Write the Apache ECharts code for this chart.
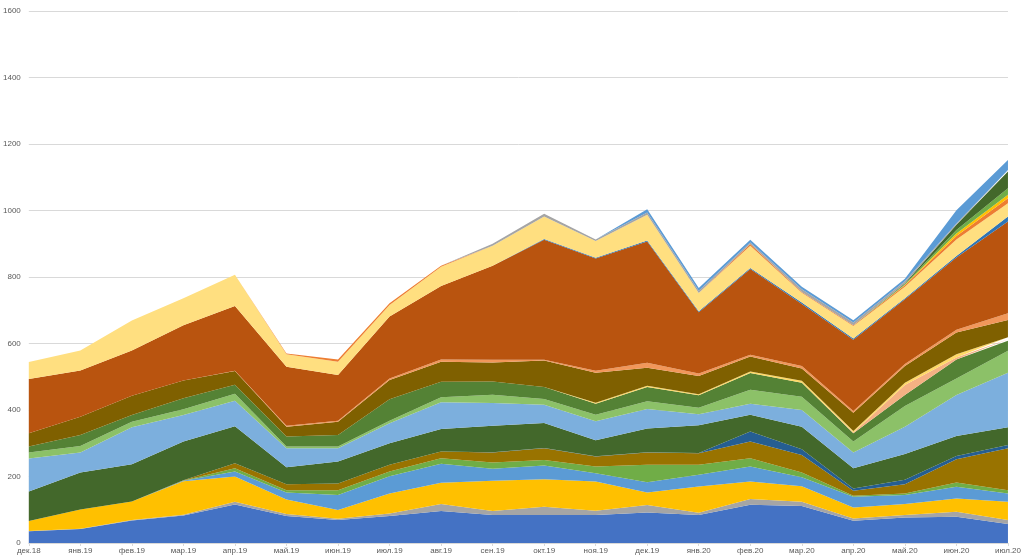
<!DOCTYPE html>
<html>
<head>
<meta charset="utf-8">
<script src="https://cdn.jsdelivr.net/npm/echarts@6/dist/echarts.min.js"></script>
<style>
  html, body {margin: 0; padding: 0; background: #fff;}
  #chart {width: 1024px; height: 560px;}
</style>
</head>
<body>
<div id="chart"></div>
<script>
// месяцы
const months = ['дек.18', 'янв.19', 'фев.19', 'мар.19', 'апр.19', 'май.19', 'июн.19', 'июл.19', 'авг.19', 'сен.19',
  'окт.19', 'ноя.19', 'дек.19', 'янв.20', 'фев.20', 'мар.20', 'апр.20', 'май.20', 'июн.20', 'июл.20']

// ряды снизу вверх
const s01 = [35, 42, 68, 83, 116, 81, 69, 81, 96, 84, 84, 84, 92, 84, 115, 111, 67, 77, 79, 57]
const s02 = [1, 1, 1, 2, 8, 6, 4, 8, 21, 12, 25, 13, 22, 7, 17, 13, 7, 7, 15, 12]
const s03 = [30, 58, 56, 101, 76, 44, 26, 60, 64, 91, 83, 88, 38, 79, 53, 47, 33, 33, 40, 55]
const s04 = [0, 0, 0, 1, 15, 21, 45, 52, 57, 36, 41, 25, 31, 35, 45, 27, 32, 27, 35, 25]
const s05 = [0, 0, 0, 1, 10, 7, 15, 14, 17, 19, 17, 20, 52, 30, 25, 14, 3, 5, 13, 10]
const s06 = [0, 0, 0, 1, 15, 18, 20, 20, 20, 30, 35, 30, 37, 35, 50, 53, 15, 28, 70, 126]
const s07 = [0, 0, 0, 0, 0, 0, 0, 0, 0, 1, 1, 1, 1, 1, 30, 17, 7, 13, 10, 10]
const s08 = [89, 111, 112, 116, 111, 51, 66, 65, 68, 80, 75, 48, 71, 83, 51, 68, 61, 78, 60, 53]
const s09 = [99, 60, 111, 80, 77, 57, 40, 60, 80, 68, 55, 57, 59, 33, 33, 50, 47, 82, 123, 164]
const s10 = [18, 20, 17, 17, 21, 5, 5, 8, 15, 25, 17, 20, 23, 20, 42, 40, 33, 62, 50, 66]
const s11 = [18, 33, 20, 33, 27, 30, 35, 64, 47, 40, 36, 33, 43, 37, 50, 42, 25, 33, 57, 30]
const s12 = [0, 0, 0, 0, 0, 0, 0, 0, 0, 0, 0, 0, 0, 0, 0, 0, 2, 30, 6, 5]
const s13 = [0, 0, 0, 0, 0, 0, 0, 0, 0, 0, 0, 3, 4, 3, 5, 6, 5, 7, 10, 6]
const s14 = [40, 55, 58, 54, 41, 30, 40, 58, 60, 57, 80, 90, 54, 55, 45, 37, 55, 50, 65, 52]
const s15 = [0, 0, 0, 0, 1, 3, 3, 5, 7, 8, 2, 6, 15, 8, 5, 7, 5, 6, 8, 20]
const s16 = [163, 139, 136, 166, 195, 177, 137, 186, 221, 283, 361, 338, 365, 184, 258, 187, 214, 195, 218, 276]
const s17 = [0, 0, 0, 0, 0, 0, 0, 0, 0, 0, 2, 2, 3, 3, 3, 4, 4, 3, 4, 15]
const s18 = [51, 60, 90, 81, 94, 38, 40, 35, 58, 60, 68, 50, 77, 55, 67, 30, 38, 35, 50, 40]
const s19 = [0, 0, 0, 0, 0, 2, 7, 5, 3, 0, 0, 0, 0, 0, 5, 2, 2, 4, 10, 15]
const s20 = [0, 0, 0, 0, 0, 0, 0, 0, 0, 0, 0, 0, 0, 0, 0, 0, 0, 2, 8, 10]
const s21 = [0, 0, 0, 0, 0, 0, 0, 0, 0, 0, 0, 0, 0, 0, 0, 0, 0, 2, 10, 20]
const s22 = [0, 0, 0, 0, 0, 0, 0, 0, 0, 0, 0, 0, 0, 0, 0, 0, 0, 2, 16, 50]
const s23 = [0, 0, 0, 0, 0, 0, 0, 0, 0, 6, 8, 5, 7, 7, 5, 8, 8, 6, 4, 5]
const s24 = [0, 0, 0, 0, 0, 0, 0, 0, 0, 0, 0, 0, 10, 8, 8, 8, 7, 8, 40, 30]

const yTicks = [0, 200, 400, 600, 800, 1000, 1200, 1400, 1600]

const rows = [s01, s02, s03, s04, s05, s06, s07, s08, s09, s10, s11, s12,
  s13, s14, s15, s16, s17, s18, s19, s20, s21, s22, s23, s24]
const colors = ['#4472C4', '#A5A5A5', '#FFC000', '#5B9BD5', '#70AD47', '#997300',
  '#255E91', '#43682B', '#7CAFDD', '#8CC168', '#548235', '#F4B183',
  '#FFD966', '#7F6000', '#F1975A', '#B9540F', '#2E75B6', '#FFDF80',
  '#ED7D31', '#FFC000', '#70AD47', '#43682B', '#A5A5A5', '#5B9BD5']

let chart = echarts.init(document.getElementById('chart'))

let series = rows.map((d, i) => ({
  name: 'ряд ' + (i + 1),
  type: 'line',
  stack: 'total',
  data: d,
  symbol: 'none',
  lineStyle: {width: 0},
  areaStyle: {color: colors[i], opacity: 1},
  itemStyle: {color: colors[i]}
}))

let option = {
  animation: false,
  grid: {left: 25, right: 14, top: 11, bottom: 17},
  xAxis: {
    type: 'category',
    data: months,
    boundaryGap: false,
    axisLine: {lineStyle: {color: '#D9D9D9'}},
    axisTick: {show: true, length: 3, lineStyle: {color: '#D9D9D9'}},
    axisLabel: {fontSize: 8, color: '#595959', margin: 4, fontFamily: 'Liberation Sans'}
  },
  yAxis: {
    type: 'value',
    min: yTicks[0],
    max: yTicks[yTicks.length - 1],
    interval: 200,
    axisLine: {show: false},
    axisTick: {show: false},
    splitLine: {lineStyle: {color: '#D9D9D9'}},
    axisLabel: {fontSize: 8, color: '#595959', margin: 8, fontFamily: 'Liberation Sans',
      formatter: v => String(v)}
  },
  series: series
}
chart.setOption(option)
</script>
</body>
</html>
